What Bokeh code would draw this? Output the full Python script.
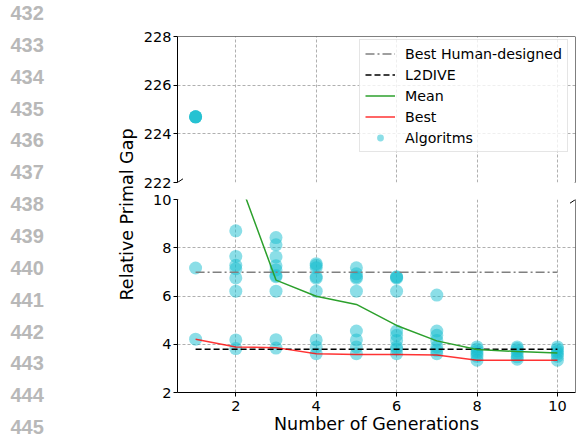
import math
from bokeh.plotting import figure
from bokeh.layouts import row, column
from bokeh.models import Range1d, FixedTicker, Span, Arrow, Legend, LegendItem
from bokeh.core.properties import value
from bokeh.embed import file_html
from bokeh.resources import INLINE

# ---------------- data ----------------
GENERATIONS = [1, 2, 3, 4, 5, 6, 7, 8, 9, 10]

ALG_GEN_1 = [224.7, 224.7, 224.7, 224.7, 7.16, 4.21]
ALG_GEN_2 = [8.70, 7.64, 7.27, 7.13, 6.75, 6.20, 4.18, 3.82]
ALG_GEN_3 = [8.42, 8.12, 7.62, 7.25, 7.08, 6.80, 6.85, 6.20, 4.19, 3.84]
ALG_GEN_4 = [7.34, 7.27, 7.17, 6.80, 6.74, 6.20, 4.18, 3.89, 3.61]
ALG_GEN_5 = [7.17, 6.92, 6.80, 6.74, 6.20, 4.55, 4.18, 3.89, 3.61]
ALG_GEN_6 = [6.80, 6.74, 6.78, 6.20, 4.55, 4.37, 4.16, 3.89, 3.80, 3.61]
ALG_GEN_7 = [6.04, 4.55, 4.37, 4.16, 3.89, 3.75, 3.61]
ALG_GEN_8 = [3.89, 3.80, 3.70, 3.61, 3.50, 3.34]
ALG_GEN_9 = [3.89, 3.82, 3.72, 3.61, 3.48, 3.38]
ALG_GEN_10 = [3.89, 3.80, 3.70, 3.61, 3.50, 3.34]

MEAN = [78.7, 11.2, 6.66, 5.99, 5.65, 4.78, 4.14, 3.78, 3.70, 3.64]
BEST = [4.21, 3.89, 3.86, 3.61, 3.58, 3.57, 3.55, 3.34, 3.34, 3.34]
BEST_HUMAN = 6.98
L2DIVE = 3.79

X_TICKS = [2, 4, 6, 8, 10]
Y_TICKS_TOP = [222, 224, 226, 228]
Y_TICKS_BOTTOM = [2, 4, 6, 8, 10]
LINE_NUMBERS = [432, 433, 434, 435, 436, 437, 438, 439, 440, 441, 442, 443, 444, 445]

SERIES_LABELS = ["Best Human-designed", "L2DIVE", "Mean", "Best", "Algoritms"]
X_LABEL = "Number of Generations"
Y_LABEL = "Relative Primal Gap"

alg_lists = [ALG_GEN_1, ALG_GEN_2, ALG_GEN_3, ALG_GEN_4, ALG_GEN_5,
             ALG_GEN_6, ALG_GEN_7, ALG_GEN_8, ALG_GEN_9, ALG_GEN_10]
alg_x, alg_y = [], []
for g, vals in zip(GENERATIONS, alg_lists):
    for v in vals:
        alg_x.append(g)
        alg_y.append(v)

# ---------------- styling ----------------
FONT = "DejaVu Sans"
CYAN = "#17becf"
GREEN = "#2ca02c"
GRID = "#b0b0b0"

SIDE_W = 140
PLOT_W = 437
BORDER_L = 36
BORDER_R = 2
FRAME_W = PLOT_W - BORDER_L - BORDER_R
X0, X1 = 0.55, 10.45

TOP_H = 190
TOP_BT, TOP_BB = 36, 8
BOT_H = 247
BOT_BT, BOT_BB = 9, 45
TOP_FH = TOP_H - TOP_BT - TOP_BB
BOT_FH = BOT_H - BOT_BT - BOT_BB
H = TOP_H + BOT_H


def style(p):
    p.outline_line_color = None
    p.background_fill_color = "white"
    p.border_fill_color = "white"
    for g in p.grid:
        g.grid_line_color = GRID
        g.grid_line_dash = "3 2"
        g.grid_line_width = 1
    p.xgrid.ticker = FixedTicker(ticks=X_TICKS)
    for ax in p.axis:
        ax.axis_line_color = "black"
        ax.axis_line_width = 1
        ax.major_tick_line_color = "black"
        ax.major_tick_out = 4
        ax.major_tick_in = 0
        ax.minor_tick_line_color = None
        ax.major_label_text_font = FONT
        ax.major_label_text_font_size = "14.5px"
        ax.major_label_text_color = "black"
        ax.major_label_standoff = 2


top = figure(width=PLOT_W, height=TOP_H, x_range=Range1d(X0, X1), y_range=Range1d(222, 228),
             x_axis_location=None, toolbar_location=None, output_backend="svg",
             min_border_left=BORDER_L, min_border_right=BORDER_R,
             min_border_top=TOP_BT, min_border_bottom=TOP_BB)
style(top)
top.yaxis.ticker = FixedTicker(ticks=Y_TICKS_TOP)

bot = figure(width=PLOT_W, height=BOT_H, x_range=top.x_range, y_range=Range1d(2, 10),
             toolbar_location=None, output_backend="svg",
             min_border_left=BORDER_L, min_border_right=BORDER_R,
             min_border_top=BOT_BT, min_border_bottom=BOT_BB)
style(bot)
bot.yaxis.ticker = FixedTicker(ticks=Y_TICKS_BOTTOM)
bot.xaxis.ticker = FixedTicker(ticks=X_TICKS)
bot.xaxis.major_label_standoff = 4
bot.xaxis.axis_label = X_LABEL
bot.xaxis.axis_label_text_font = FONT
bot.xaxis.axis_label_text_font_size = "17.5px"
bot.xaxis.axis_label_text_font_style = "normal"
bot.xaxis.axis_label_text_color = "black"
bot.xaxis.axis_label_standoff = 0

items = []
for p, is_top in ((top, True), (bot, False)):
    r_alg = p.scatter(alg_x, alg_y, size=13, color=CYAN, alpha=0.5, line_color=None)
    r_hum = p.line([GENERATIONS[0], GENERATIONS[-1]], [BEST_HUMAN, BEST_HUMAN],
                   line_color="#808080", line_width=1.5, line_dash="9 3 2 3")
    r_l2 = p.line([GENERATIONS[0], GENERATIONS[-1]], [L2DIVE, L2DIVE],
                  line_color="black", line_width=1.5, line_dash="6 3")
    r_mean = p.line(GENERATIONS, MEAN, line_color=GREEN, line_width=1.5)
    r_best = p.line(GENERATIONS, BEST, line_color="red", line_alpha=0.8, line_width=1.5)
    if is_top:
        items = [r_hum, r_l2, r_mean, r_best, r_alg]

legend = Legend(items=[LegendItem(label=lab, renderers=[r]) for lab, r in zip(SERIES_LABELS, items)],
                location=(182, 30), label_text_font=FONT, label_text_font_size="14.2px",
                label_text_color="black", glyph_width=30, glyph_height=17, label_height=17,
                spacing=4, padding=5, label_standoff=10, margin=0,
                border_line_color="#cccccc", border_line_width=1,
                background_fill_color="white", background_fill_alpha=0.8)
top.add_layout(legend, "center")

# spines (top/right) as spans
top.add_layout(Span(location=228, dimension="width", line_color="black", line_width=1))
top.add_layout(Span(location=X1, dimension="height", line_color="black", line_width=1))
bot.add_layout(Span(location=X1, dimension="height", line_color="black", line_width=1))

# broken-axis diagonal marks
dx = 5.5 * (X1 - X0) / FRAME_W
dy_top = 3.7 * (228 - 222) / TOP_FH
dy_bot = 3.7 * (10 - 2) / BOT_FH
for xe in (X0, X1):
    top.add_layout(Arrow(end=None, x_start=xe - dx, y_start=222 - dy_top,
                         x_end=xe + dx, y_end=222 + dy_top, line_color="black", line_width=1))
    bot.add_layout(Arrow(end=None, x_start=xe - dx, y_start=10 - dy_bot,
                         x_end=xe + dx, y_end=10 + dy_bot, line_color="black", line_width=1))

# ---------------- side strip: line numbers and y title ----------------
side = figure(width=SIDE_W, height=H, x_range=Range1d(0, SIDE_W), y_range=Range1d(0, H),
              x_axis_location=None, y_axis_location=None, toolbar_location=None,
              output_backend="svg", min_border=0)
side.outline_line_color = None
side.grid.visible = False


def page_y(yp):
    return H - yp


side.text(x=[10] * len(LINE_NUMBERS),
          y=[page_y(12.5 + i * 31.85) for i in range(len(LINE_NUMBERS))],
          text=[str(n) for n in LINE_NUMBERS],
          text_font=value("Liberation Sans"), text_font_style="bold", text_font_size="20px",
          text_color="#b8b8b8", text_align="left", text_baseline="middle")

side.text(x=[126], y=[page_y(214)], text=[Y_LABEL], angle=math.pi / 2,
          text_font=value(FONT), text_font_size="17.5px", text_color="black",
          text_align="center", text_baseline="middle")

layout = row(side, column(top, bot))
open("out.html", "w").write(file_html(layout, INLINE))
